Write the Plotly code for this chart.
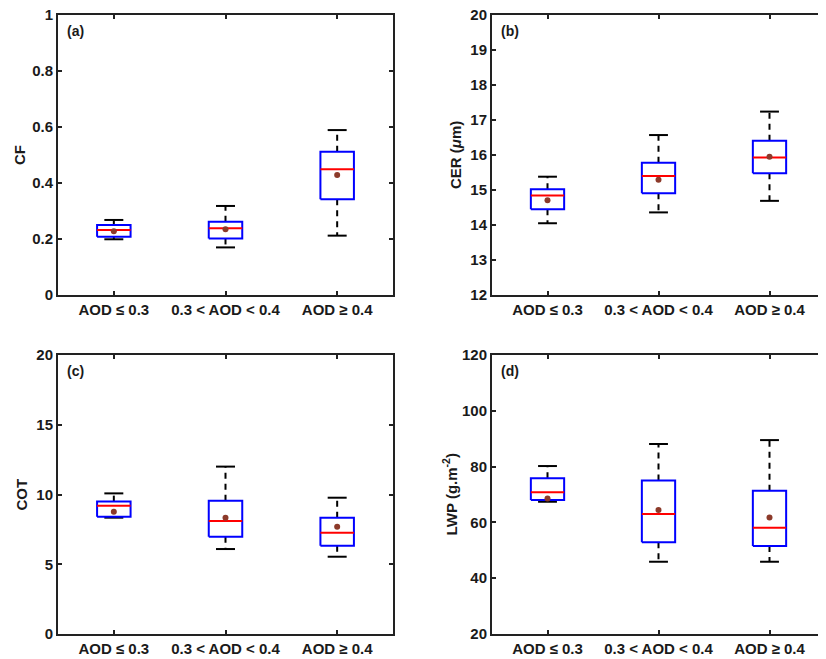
import plotly.graph_objects as go

categories = ["AOD ≤ 0.3", "0.3 < AOD < 0.4", "AOD ≥ 0.4"]
positions = [1, 2, 3]

# panel (a) CF
cf_low = [0.199, 0.170, 0.212]
cf_q1 = [0.208, 0.202, 0.342]
cf_med = [0.232, 0.238, 0.449]
cf_q3 = [0.250, 0.262, 0.512]
cf_high = [0.268, 0.318, 0.589]
cf_mean = [0.228, 0.235, 0.429]

# panel (b) CER
cer_low = [14.05, 14.36, 14.69]
cer_q1 = [14.45, 14.91, 15.48]
cer_med = [14.84, 15.40, 15.93]
cer_q3 = [15.02, 15.78, 16.41]
cer_high = [15.38, 16.57, 17.24]
cer_mean = [14.71, 15.29, 15.95]

# panel (c) COT
cot_low = [8.34, 6.09, 5.54]
cot_q1 = [8.41, 6.98, 6.33]
cot_med = [9.20, 8.10, 7.26]
cot_q3 = [9.49, 9.56, 8.34]
cot_high = [10.08, 12.00, 9.77]
cot_mean = [8.77, 8.34, 7.69]

# panel (d) LWP
lwp_low = [67.4, 45.9, 45.9]
lwp_q1 = [68.0, 52.9, 51.5]
lwp_med = [70.8, 63.0, 58.1]
lwp_q3 = [75.8, 75.0, 71.3]
lwp_high = [80.2, 88.1, 89.5]
lwp_mean = [68.6, 64.4, 61.8]

panels = [
    dict(low=cf_low, q1=cf_q1, med=cf_med, q3=cf_q3, high=cf_high, mean=cf_mean,
         yrange=[0, 1], ticks=[0, 0.2, 0.4, 0.6, 0.8, 1], ticktext=["0", "0.2", "0.4", "0.6", "0.8", "1"],
         title="CF", label="(a)"),
    dict(low=cer_low, q1=cer_q1, med=cer_med, q3=cer_q3, high=cer_high, mean=cer_mean,
         yrange=[12, 20], ticks=list(range(12, 21)), ticktext=[str(v) for v in range(12, 21)],
         title="CER (<i>μ</i>m)", label="(b)"),
    dict(low=cot_low, q1=cot_q1, med=cot_med, q3=cot_q3, high=cot_high, mean=cot_mean,
         yrange=[0, 20], ticks=[0, 5, 10, 15, 20], ticktext=["0", "5", "10", "15", "20"],
         title="COT", label="(c)"),
    dict(low=lwp_low, q1=lwp_q1, med=lwp_med, q3=lwp_q3, high=lwp_high, mean=lwp_mean,
         yrange=[20, 120], ticks=[20, 40, 60, 80, 100, 120], ticktext=["20", "40", "60", "80", "100", "120"],
         title="LWP (g.m<sup>-2</sup>)", label="(d)"),
]

W, H = 826, 659
OFF = 8  # page body margin offset
def px_x(v):
    return (v - OFF) / W
def px_y(v):
    return (H - (v - OFF)) / H

xdoms = [[px_x(58), px_x(393)], [px_x(492), px_x(825)]]
ydoms = [[px_y(295), px_y(15)], [px_y(634), px_y(355)]]
title_x = [[px_x(20), px_x(456)], [px_x(21), px_x(450)]]

font_family = "Liberation Sans, Arial, sans-serif"
txt_color = "#1a1a1a"
fig = go.Figure()

bw = 0.15   # box half width
cw = 0.085  # cap half width

for i, p in enumerate(panels):
    ax = "" if i == 0 else str(i + 1)
    xref, yref = "x" + ax, "y" + ax
    for j, xc in enumerate(positions):
        # whiskers (dashed)
        fig.add_trace(go.Scatter(
            x=[xc, xc, None, xc, xc], y=[p["q3"][j], p["high"][j], None, p["q1"][j], p["low"][j]],
            mode="lines", line=dict(color="black", width=2, dash="6px,5px"),
            xaxis=xref, yaxis=yref, showlegend=False, hoverinfo="skip"))
        # caps
        fig.add_trace(go.Scatter(
            x=[xc - cw, xc + cw, None, xc - cw, xc + cw],
            y=[p["high"][j], p["high"][j], None, p["low"][j], p["low"][j]],
            mode="lines", line=dict(color="black", width=2),
            xaxis=xref, yaxis=yref, showlegend=False, hoverinfo="skip"))
        # box
        fig.add_trace(go.Scatter(
            x=[xc - bw, xc + bw, xc + bw, xc - bw, xc - bw],
            y=[p["q1"][j], p["q1"][j], p["q3"][j], p["q3"][j], p["q1"][j]],
            mode="lines", line=dict(color="#0000ff", width=2),
            fill="toself", fillcolor="white",
            xaxis=xref, yaxis=yref, showlegend=False, hoverinfo="skip"))
        # median
        fig.add_trace(go.Scatter(
            x=[xc - bw, xc + bw], y=[p["med"][j], p["med"][j]],
            mode="lines", line=dict(color="#ff0000", width=2),
            xaxis=xref, yaxis=yref, showlegend=False, hoverinfo="skip"))
    # means
    fig.add_trace(go.Scatter(
        x=positions, y=p["mean"], mode="markers",
        marker=dict(color="#8c3a2a", size=6, symbol="circle"),
        xaxis=xref, yaxis=yref, showlegend=False, hoverinfo="skip"))

    r, c = divmod(i, 2)
    axis_common = dict(showline=True, linewidth=2, linecolor="#222222", mirror="ticks",
                       ticks="inside", ticklen=4, tickwidth=1.5, tickcolor="#222222",
                       showgrid=False, zeroline=False, automargin=False,
                       ticklabeloverflow="allow",
                       tickfont=dict(family=font_family, size=15, color=txt_color))
    fig.update_layout({
        "xaxis" + ax: dict(axis_common, domain=xdoms[c], range=[0.5, 3.5],
                           tickmode="array", tickvals=positions,
                           ticktext=["<b>" + t + "</b>" for t in categories],
                           anchor=yref),
        "yaxis" + ax: dict(axis_common, domain=ydoms[r], range=p["yrange"],
                           tickmode="array", tickvals=p["ticks"],
                           ticktext=["<b>" + t + "</b>" for t in p["ticktext"]],
                           anchor=xref),
    })
    # y-axis title
    fig.add_annotation(x=title_x[r][c], y=(ydoms[r][0] + ydoms[r][1]) / 2,
                       xref="paper", yref="paper", text="<b>" + p["title"] + "</b>",
                       textangle=-90, showarrow=False, xanchor="center", yanchor="middle",
                       font=dict(family=font_family, size=15, color=txt_color))
    # panel label
    fig.add_annotation(x=0.5 + 0.06, y=p["yrange"][1] - (p["yrange"][1] - p["yrange"][0]) * 0.057,
                       xref=xref, yref=yref, text="<b>" + p["label"] + "</b>",
                       showarrow=False, xanchor="left", yanchor="middle",
                       font=dict(family=font_family, size=14, color=txt_color))

fig.update_layout(width=W, height=H, margin=dict(l=0, r=0, t=0, b=0, autoexpand=False),
                  plot_bgcolor="white", paper_bgcolor="white")

fig.write_html("out.html")
